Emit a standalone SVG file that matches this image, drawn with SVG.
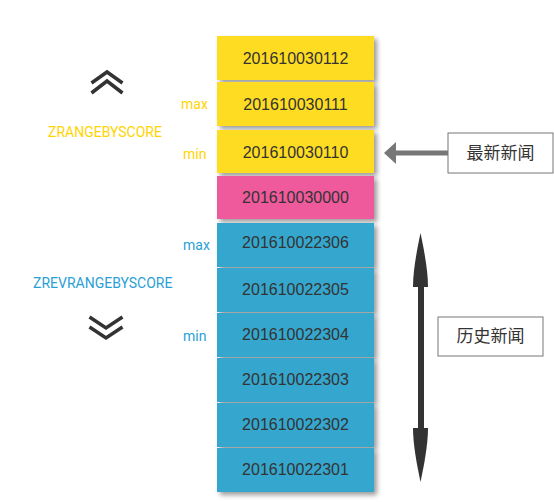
<svg xmlns="http://www.w3.org/2000/svg" width="554" height="502" viewBox="0 0 554 502">
<defs>
<style>
.box text{font-family:"Liberation Sans",Arial,sans-serif;font-size:16px;fill:#333;text-anchor:middle}
.y{fill:#FEDC22}.p{fill:#EE5A9C}.b{fill:#35A7CE}
.lab{font-family:Roboto,"Liberation Sans",sans-serif;font-size:14px}
.ly{fill:#FFD400}.lb{fill:#2A9FD6}
.chev{fill:none;stroke:#333;stroke-width:3.5}
.cjk{font-family:"Noto Sans CJK SC",sans-serif;font-size:17px;fill:#333;text-anchor:middle}
</style>
<filter id="sh" x="-10%" y="-20%" width="130%" height="160%">
<feGaussianBlur in="SourceAlpha" stdDeviation="2.5"/>
<feOffset dx="3" dy="3" result="o"/>
<feComponentTransfer><feFuncA type="linear" slope="0.4"/></feComponentTransfer>
<feMerge><feMergeNode/><feMergeNode in="SourceGraphic"/></feMerge>
</filter>
</defs>
<rect width="554" height="502" fill="#fff"/>
<g id="n1" class="box"><rect class="y" x="217" y="36" width="157" height="44" filter="url(#sh)"/><text x="295.5" y="64">201610030112</text></g>
<g id="n2" class="box"><rect class="y" x="217" y="82" width="157" height="44" filter="url(#sh)"/><text x="295.5" y="110">201610030111</text></g>
<g id="n3" class="box"><rect class="y" x="217" y="130" width="157" height="43" filter="url(#sh)"/><text x="295.5" y="158">201610030110</text></g>
<g id="n4" class="box"><rect class="p" x="217" y="176" width="157" height="43" filter="url(#sh)"/><text x="295.5" y="203">201610030000</text></g>
<g id="n5" class="box"><rect class="b" x="217" y="223" width="157" height="44" filter="url(#sh)"/><text x="295.5" y="248">201610022306</text></g>
<g id="n6" class="box"><rect class="b" x="217" y="268" width="157" height="44" filter="url(#sh)"/><text x="295.5" y="295">201610022305</text></g>
<g id="n7" class="box"><rect class="b" x="217" y="313" width="157" height="44" filter="url(#sh)"/><text x="295.5" y="340">201610022304</text></g>
<g id="n8" class="box"><rect class="b" x="217" y="358" width="157" height="44" filter="url(#sh)"/><text x="295.5" y="385">201610022303</text></g>
<g id="n9" class="box"><rect class="b" x="217" y="403" width="157" height="44" filter="url(#sh)"/><text x="295.5" y="430">201610022302</text></g>
<g id="n10" class="box"><rect class="b" x="217" y="448" width="157" height="44" filter="url(#sh)"/><text x="295.5" y="475">201610022301</text></g>

<g id="labels" class="lab">
<text class="ly" x="181" y="109">max</text>
<text class="ly" x="48" y="137">ZRANGEBYSCORE</text>
<text class="ly" x="183" y="159">min</text>
<text class="lb" x="183" y="250">max</text>
<text class="lb" x="33" y="288">ZREVRANGEBYSCORE</text>
<text class="lb" x="183" y="341">min</text>
</g>
<g id="chevrons">
<polyline class="chev" points="91.5,83 107,72 122.5,83"/>
<polyline class="chev" points="91.5,93 107,81 122.5,93"/>
<polyline class="chev" points="89.5,317 106,328 122.5,317"/>
<polyline class="chev" points="89.5,327 106,338 122.5,327"/>
</g>
<g id="latest"><rect x="448" y="133" width="105" height="40" fill="#fff" stroke="#777" stroke-width="1"/><text class="cjk" x="500.5" y="159">最新新闻</text></g>
<g id="history"><rect x="438" y="317" width="105" height="39" fill="#fff" stroke="#777" stroke-width="1"/><text class="cjk" x="490.5" y="342">历史新闻</text></g>
<g id="connectors">
<line x1="448" y1="153" x2="394" y2="153" stroke="#777" stroke-width="5"/>
<polygon points="384,153 396,142 396,164" fill="#777"/>
<line x1="421" y1="280" x2="421" y2="432" stroke="#333" stroke-width="6"/>
<path d="M420.5,233 C417,250 413,270 413,287 L428,287 C428,270 424,250 420.5,233 Z" fill="#333"/>
<path d="M420.5,482 C417,465 413,445 413,428 L428,428 C428,445 424,465 420.5,482 Z" fill="#333"/>
</g>
</svg>
